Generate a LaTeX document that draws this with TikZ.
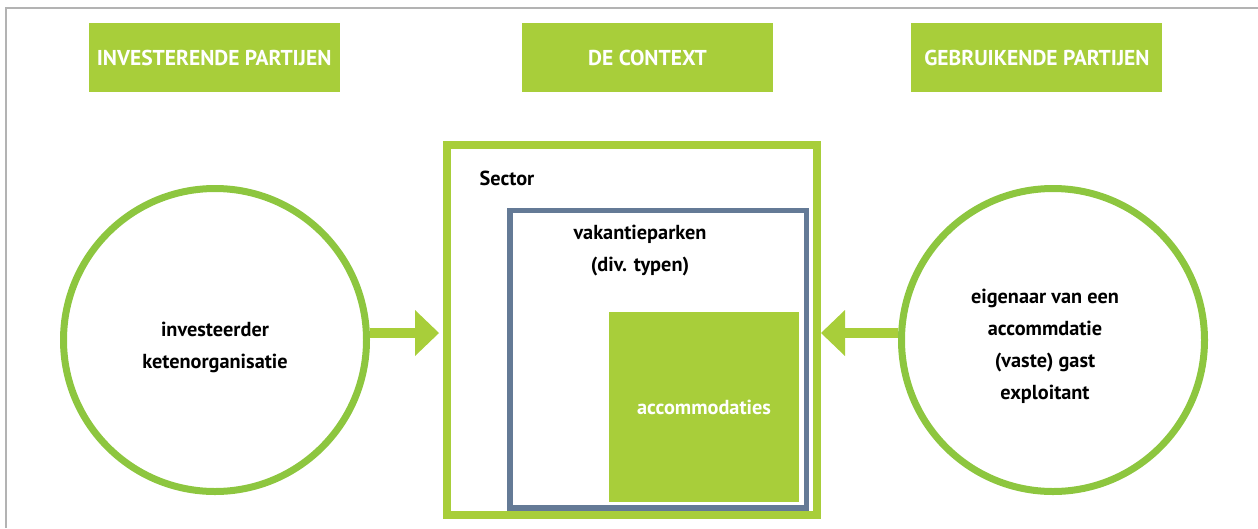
\documentclass[tikz,border=0pt]{standalone}
\usepackage{fontspec}
\setmainfont{PT Sans}
\usepackage{tikz}
\usetikzlibrary{positioning,arrows.meta}

\definecolor{kopgroen}{RGB}{168,206,58}
\definecolor{cirkelgroen}{RGB}{141,198,63}
\definecolor{parkblauw}{RGB}{100,122,150}
\definecolor{kadergrijs}{RGB}{179,179,179}

\tikzset{
  kop/.style={fill=kopgroen, text=white, font=\bfseries\fontsize{21.5}{24}\selectfont,
    minimum width=251pt, minimum height=69pt, inner sep=0pt},
  partij/.style={circle, draw=cirkelgroen, line width=7pt, minimum size=303pt},
  kadertekst/.style={align=center, font=\bfseries\fontsize{20.3}{32}\selectfont},
  pijl/.style={draw=kopgroen, line width=10.5pt,
    -{Triangle[width=46pt,length=24pt,line width=0pt]}}
}

\begin{document}
\begin{tikzpicture}[x=1pt, y=-1pt]
    \useasboundingbox (0,0) rectangle (1258,528);
    % kader rondom
    \draw[kadergrijs, line width=2pt] (6,528) -- (6,8) -- (1258,8);

    % Kopjes
    \node[kop] (context) at (647.5,57.5) {DE CONTEXT};            % midden
    \node[kop, left=182pt of context] (invest) {INVESTERENDE PARTIJEN}; % links
    \node[kop, right=138pt of context] (gebruik) {GEBRUIKENDE PARTIJEN}; % rechts

    % De context: geneste kaders
    \node[draw=kopgroen, line width=8pt, minimum width=370pt, minimum height=370pt,
      inner sep=0pt] (sector) at (632,330) {};                    % sector
    \node[draw=parkblauw, line width=5.5pt, minimum width=296.5pt, minimum height=297.5pt,
      inner sep=0pt] (parken) at (658,359) {};                    % vakantieparken
    \node[fill=kopgroen, minimum size=190pt, inner sep=0pt, text=white,
      font=\bfseries\fontsize{20.3}{24}\selectfont] (accom) at (704,407) {accommodaties};

    \node[kadertekst, anchor=west] (sectortxt) at (476,178) {Sector};
    \node[kadertekst] (parkentxt) at (640,251) {vakantieparken\\(div. typen)};

    % Partijen
    \node[partij] (links) at (215,340) {};                        % investeerders
    \node[partij] (rechts) at (1053,340) {};                      % gebruikers
    \node[kadertekst] (linkstxt) at ([yshift=-7pt]links.center) {investeerder\\ketenorganisatie};
    \node[kadertekst] (rechtstxt) at ([xshift=-8pt,yshift=-6pt]rechts.center)
      {eigenaar van een\\accommdatie\\(vaste) gast\\exploitant};

    % Pijlen naar de context
    \draw[pijl, shorten >=4pt] (links.east |- 0,333) -- (sector.west |- 0,333);
    \draw[pijl] (rechts.west |- 0,333) -- (sector.east |- 0,333);
\end{tikzpicture}
\end{document}
